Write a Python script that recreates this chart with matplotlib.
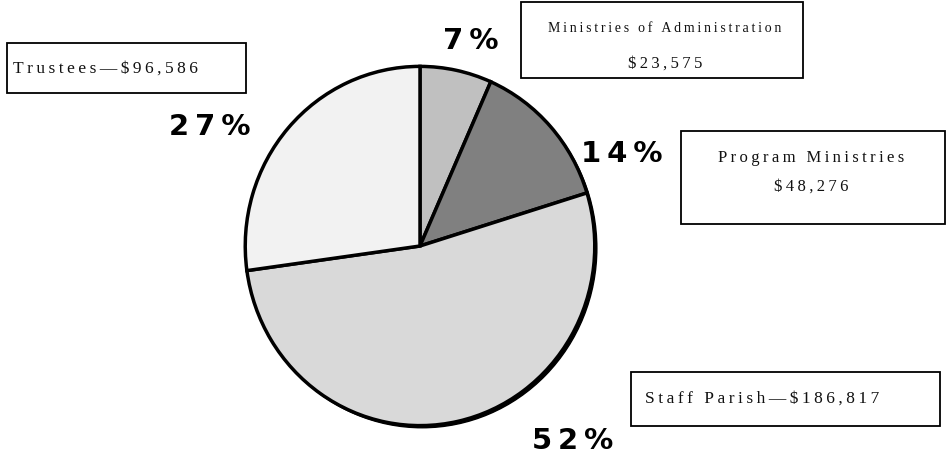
"""Church budget pie chart: share of spending by committee."""

import matplotlib
matplotlib.use('Agg')
import matplotlib.pyplot as plt
from matplotlib.patches import Ellipse, Rectangle


# Data ------------------------------------------------------------------------

categories = ['Ministries of Administration', 'Program Ministries',
              'Staff Parish', 'Trustees']
amounts = [23575, 48276, 186817, 96586]
pct_labels = ['7%', '14%', '52%', '27%']
box_lines = [['Ministries of Administration', '$23,575'],
             ['Program Ministries', '$48,276'],
             ['Staff Parish\u2014$186,817'],
             ['Trustees\u2014$96,586']]

colors = ['#c0c0c0', '#808080', '#d9d9d9', '#f2f2f2']

W, H = 947, 456  # figure size in pixels


def spaced(s):
    """Mimic the loose letter spacing of the original by thin spaces."""
    return '\u2009'.join(s)


fig = plt.figure(figsize=(W / 100, H / 100), dpi=100)
fig.set_facecolor('white')

# Pie (slightly taller than wide, as in the original) -------------------------

cx, cy, rx, ry = 420, 247, 180, 185   # pixel centre and radii
pie_ax = fig.add_axes([(cx - rx) / W, (H - cy - ry) / H, 2 * rx / W, 2 * ry / H])
pie_ax.add_patch(Ellipse((0.012, -0.012), 2, 2, color='black', zorder=0))
pie_ax.pie(amounts, colors=colors, startangle=90, counterclock=False,
           radius=1, wedgeprops={'edgecolor': 'black', 'linewidth': 2.5,
                                 'zorder': 1})
pie_ax.set_aspect('auto')
pie_ax.set_xlim(-1.03, 1.03)
pie_ax.set_ylim(-1.03, 1.03)
pie_ax.axis('off')

# Overlay in pixel coordinates for labels and boxes ---------------------------

ax = fig.add_axes([0, 0, 1, 1])
ax.set_xlim(0, W)
ax.set_ylim(H, 0)
ax.axis('off')
ax.patch.set_alpha(0)

pct_pos = [(471, 41), (622, 154), (573, 441), (210, 127)]
for lab, (x, y) in zip(pct_labels, pct_pos):
    ax.text(x, y, spaced(lab), fontsize=21, fontweight='bold',
            family=['DejaVu Sans'], ha='center', va='center')

# boxes: (left, top, width, height), text anchor x, alignment,
# line y's and font sizes
boxes = [((521, 3, 282, 76), 665, 'center', [28, 64], [10, 12]),
         ((681, 132, 264, 93), 811, 'center', [158, 187], [12, 12]),
         ((631, 373, 309, 54), 645, 'left', [399], [12.5]),
         ((7, 44, 239, 50), 13, 'left', [69], [12.5])]

serif = ['Liberation Serif', 'DejaVu Serif']
for lines, ((x0, y0, w, h), tx, ha, ys, sizes) in zip(box_lines, boxes):
    ax.add_patch(Rectangle((x0, y0), w, h, facecolor='white',
                           edgecolor='black', linewidth=1.3))
    for line, ty, fs in zip(lines, ys, sizes):
        ax.text(tx, ty, spaced(line), fontsize=fs, family=serif,
                ha=ha, va='center', color='#111111')

fig.savefig('out.png', dpi=100)
